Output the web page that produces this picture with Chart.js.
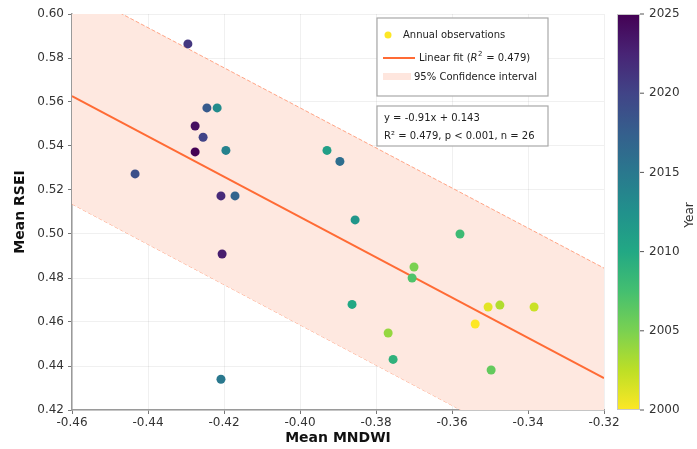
<!DOCTYPE html>
<html>
<head>
<meta charset="utf-8">
<script src="https://cdn.jsdelivr.net/npm/chart.js@4/dist/chart.umd.min.js"></script>
<style>
  html, body { margin: 0; padding: 0; background: #fff; }
  canvas { display: block; }
</style>
</head>
<body>
<canvas id="c" width="697" height="449"></canvas>
<script>
// data
const years = [2000, 2001, 2002, 2003, 2004, 2005, 2006, 2007, 2008, 2009, 2010, 2011, 2012,
               2013, 2014, 2015, 2016, 2017, 2018, 2019, 2020, 2021, 2022, 2023, 2024, 2025];
const mndwi = [-0.3539, -0.3505, -0.3384, -0.3474, -0.3768, -0.3700, -0.3497, -0.3705, -0.3579,
               -0.3755, -0.3863, -0.3929, -0.3855, -0.4218, -0.4195, -0.4208, -0.3895, -0.4171,
               -0.4245, -0.4434, -0.4255, -0.4295, -0.4208, -0.4205, -0.4276, -0.4276];
const rsei = [0.4591, 0.4668, 0.4668, 0.4677, 0.4550, 0.4850, 0.4382, 0.4800, 0.5000,
              0.4430, 0.4680, 0.5380, 0.5064, 0.5573, 0.5380, 0.4340, 0.5330, 0.5173,
              0.5573, 0.5273, 0.5440, 0.5864, 0.5173, 0.4909, 0.5491, 0.5373];

const fitX = [-0.46, -0.32];
const fitY = [0.5627, 0.4345];
const bandUpper = [0.6120, 0.4845];
const bandLower = [0.5136, 0.3855];

const xTicks = [-0.46, -0.44, -0.42, -0.40, -0.38, -0.36, -0.34, -0.32];
const yTicks = [0.42, 0.44, 0.46, 0.48, 0.50, 0.52, 0.54, 0.56, 0.58, 0.60];
const cbTicks = [2000, 2005, 2010, 2015, 2020, 2025];
const yearMin = 2000, yearMax = 2025;

const legendLabels = ["Annual observations", "Linear fit (", "95% Confidence interval"];
const statsLines = ["y = -0.91x + 0.143", "R\u00b2 = 0.479, p < 0.001, n = 26"];

// viridis stops
const viridis = ["#440154", "#482475", "#414487", "#355f8d", "#2a788e", "#21918c",
                 "#22a884", "#44bf70", "#7ad151", "#bddf26", "#fde725"];

function hexRgb(h) {
  return [parseInt(h.slice(1, 3), 16), parseInt(h.slice(3, 5), 16), parseInt(h.slice(5, 7), 16)];
}
function viridisAt(t) {
  t = Math.max(0, Math.min(1, t));
  const p = t * (viridis.length - 1);
  const i = Math.min(Math.floor(p), viridis.length - 2);
  const f = p - i;
  const a = hexRgb(viridis[i]), b = hexRgb(viridis[i + 1]);
  const c = a.map((v, k) => Math.round(v + (b[k] - v) * f));
  return `rgb(${c[0]},${c[1]},${c[2]})`;
}
// reversed: 2000 yellow, 2025 purple
const yearColor = y => viridisAt(1 - (y - yearMin) / (yearMax - yearMin));

const FONT = "'DejaVu Sans', sans-serif";

const points = years.map((y, i) => ({ x: mndwi[i], y: rsei[i] }));

// colorbar, legend box, stats box and axis titles
const decorations = {
  id: "decorations",
  afterDraw(chart) {
    const ctx = chart.ctx;
    const area = chart.chartArea;
    ctx.save();

    // axis titles
    ctx.fillStyle = "#111";
    ctx.font = `bold 14px ${FONT}`;
    ctx.textAlign = "center";
    ctx.textBaseline = "middle";
    ctx.fillText("Mean MNDWI", (area.left + area.right) / 2, 438);
    ctx.save();
    ctx.translate(20, (area.top + area.bottom) / 2);
    ctx.rotate(-Math.PI / 2);
    ctx.fillText("Mean RSEI", 0, 0);
    ctx.restore();

    // colorbar
    const cbL = 617, cbR = 640, cbT = area.top, cbB = area.bottom;
    const g = ctx.createLinearGradient(0, cbT, 0, cbB);
    viridis.forEach((c, i) => g.addColorStop(i / (viridis.length - 1), c));
    ctx.fillStyle = g;
    ctx.fillRect(cbL, cbT, cbR - cbL, cbB - cbT);
    ctx.strokeStyle = "#c8c8c8";
    ctx.lineWidth = 1;
    ctx.strokeRect(cbL + 0.5, cbT + 0.5, cbR - cbL - 1, cbB - cbT - 1);
    ctx.font = `12px ${FONT}`;
    ctx.textAlign = "left";
    ctx.fillStyle = "#333";
    ctx.strokeStyle = "#555";
    cbTicks.forEach(v => {
      const yy = cbB - (v - yearMin) / (yearMax - yearMin) * (cbB - cbT);
      ctx.beginPath();
      ctx.moveTo(cbR, yy);
      ctx.lineTo(cbR + 4, yy);
      ctx.stroke();
      ctx.fillText(String(v), cbR + 9, yy);
    });
    ctx.save();
    ctx.translate(690, 215);
    ctx.rotate(-Math.PI / 2);
    ctx.textAlign = "center";
    ctx.font = `12px ${FONT}`;
    ctx.fillText("Year", 0, 0);
    ctx.restore();

    // legend box
    ctx.fillStyle = "#fff";
    ctx.fillRect(377, 18, 171, 78);
    ctx.strokeStyle = "#a8a8a8";
    ctx.lineWidth = 1.2;
    ctx.strokeRect(377, 18, 171, 78);
    ctx.font = `10px ${FONT}`;
    ctx.textAlign = "left";
    ctx.textBaseline = "middle";
    // marker
    ctx.fillStyle = "#fde725";
    ctx.beginPath();
    ctx.arc(388, 35, 3.5, 0, Math.PI * 2);
    ctx.fill();
    ctx.fillStyle = "#222";
    ctx.fillText(legendLabels[0], 403, 35);
    // fit line
    ctx.strokeStyle = "#ff6b35";
    ctx.lineWidth = 2;
    ctx.beginPath();
    ctx.moveTo(383, 58);
    ctx.lineTo(415, 58);
    ctx.stroke();
    let tx = 419;
    ctx.fillText(legendLabels[1], tx, 58);
    tx += ctx.measureText(legendLabels[1]).width;
    ctx.font = `italic 10px ${FONT}`;
    ctx.fillText("R", tx, 58);
    tx += ctx.measureText("R").width;
    ctx.font = `7px ${FONT}`;
    ctx.fillText("2", tx + 0.5, 54);
    tx += ctx.measureText("2").width + 1;
    ctx.font = `10px ${FONT}`;
    ctx.fillText(" = 0.479)", tx, 58);
    // band patch
    ctx.fillStyle = "rgb(254,230,222)";
    ctx.fillRect(383, 73, 28, 7);
    ctx.fillStyle = "#222";
    ctx.fillText(legendLabels[2], 414, 77);

    // stats box
    ctx.fillStyle = "#fff";
    ctx.fillRect(377, 106, 171, 40);
    ctx.strokeStyle = "#a8a8a8";
    ctx.lineWidth = 1.2;
    ctx.strokeRect(377, 106, 171, 40);
    ctx.fillStyle = "#222";
    ctx.fillText(statsLines[0], 384, 118);
    ctx.fillText(statsLines[1], 384, 136);

    ctx.restore();
  }
};

new Chart(document.getElementById("c"), {
  type: "scatter",
  data: {
    datasets: [
      {
        label: "upper",
        data: fitX.map((x, i) => ({ x, y: bandUpper[i] })),
        showLine: true,
        borderColor: "rgba(255,150,115,0.85)",
        borderWidth: 1,
        borderDash: [4, 2],
        backgroundColor: "rgba(254,232,224,1)",
        pointRadius: 0,
        fill: "+1",
        order: 3
      },
      {
        label: "lower",
        data: fitX.map((x, i) => ({ x, y: bandLower[i] })),
        showLine: true,
        borderColor: "rgba(255,150,115,0.85)",
        borderWidth: 1,
        borderDash: [4, 2],
        pointRadius: 0,
        fill: false,
        order: 3
      },
      {
        label: "fit",
        data: fitX.map((x, i) => ({ x, y: fitY[i] })),
        showLine: true,
        borderColor: "#ff6b35",
        borderWidth: 2,
        pointRadius: 0,
        fill: false,
        order: 2
      },
      {
        label: "Annual observations",
        data: points,
        pointRadius: 4.5,
        pointHoverRadius: 4.5,
        pointBackgroundColor: years.map(yearColor),
        pointBorderWidth: 0,
        order: 1
      }
    ]
  },
  options: {
    responsive: false,
    animation: false,
    layout: { padding: { left: 0, top: 14, right: 93, bottom: 0 } },
    plugins: { legend: { display: false }, tooltip: { enabled: false } },
    scales: {
      x: {
        type: "linear",
        min: -0.46,
        max: -0.32,
        afterBuildTicks: s => { s.ticks = xTicks.map(v => ({ value: v })); },
        afterFit: s => { s.height = 39; },
        ticks: {
          callback: v => v.toFixed(2),
          font: { family: FONT, size: 12 },
          color: "#333",
          padding: 2,
          maxRotation: 0
        },
        grid: {
          color: "rgba(0,0,0,0.06)",
          borderDash: [3, 3],
          tickColor: "#777",
          tickLength: 4,
          tickBorderDash: []
        },
        border: { display: true, color: "#9a9a9a", width: 1.5 }
      },
      y: {
        type: "linear",
        min: 0.42,
        max: 0.60,
        afterBuildTicks: s => { s.ticks = yTicks.map(v => ({ value: v })); },
        afterFit: s => { s.width = 72; },
        ticks: {
          callback: v => v.toFixed(2),
          font: { family: FONT, size: 12 },
          color: "#333",
          padding: 4
        },
        grid: {
          color: "rgba(0,0,0,0.06)",
          borderDash: [3, 3],
          tickColor: "#777",
          tickLength: 4,
          tickBorderDash: []
        },
        border: { display: true, color: "#9a9a9a", width: 1.5 }
      }
    }
  },
  plugins: [decorations]
});
</script>
</body>
</html>
